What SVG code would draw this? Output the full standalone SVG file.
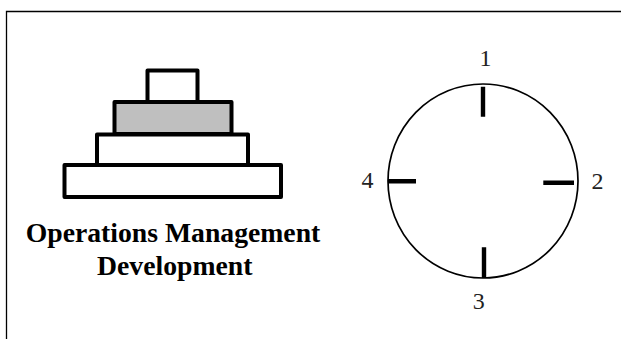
<svg xmlns="http://www.w3.org/2000/svg" width="621" height="339" viewBox="0 0 621 339">
<style>
.step{stroke:#000;stroke-width:4;stroke-linejoin:round;fill:#fff}
.frame{stroke:#000;stroke-width:1.3;fill:none}
.tick{stroke:#000;stroke-width:4.4;fill:none}
.num{font-family:"Liberation Serif",serif;font-size:24px;fill:#222;text-anchor:middle}
.title{font-family:"Liberation Serif",serif;font-size:27.7px;font-weight:bold;fill:#000;text-anchor:middle}
</style>
<rect width="621" height="339" fill="#fff"/>
<path class="frame" d="M621 11.5H6.5V339"/>
<g id="pyramid">
<rect id="step-top" class="step" x="147.5" y="70.5" width="50" height="32"/>
<rect id="step-base" class="step" x="64.5" y="165" width="216.5" height="32"/>
<rect id="step-lower" class="step" x="97" y="134.5" width="151" height="30.5"/>
<rect id="step-grey" class="step" x="114.5" y="102" width="117" height="32" style="fill:#bfbfbf"/>
</g>
<g id="title"><text class="title" x="173" y="241.5">Operations Management</text>
<text class="title" x="174.7" y="274.5">Development</text></g>
<g id="dial">
<ellipse cx="483" cy="181" rx="95" ry="97" fill="#fff" stroke="#000" stroke-width="1.7"/>
<path class="tick" d="M483 86.7V116.7M543.3 182.7H574M484 247.3V278M388 181.3H416"/>
</g>
<g id="labels">
<text class="num" x="485.5" y="65.5">1</text>
<text class="num" x="597.5" y="188.5">2</text>
<text class="num" x="478.7" y="308.5">3</text>
<text class="num" x="367.5" y="188">4</text>
</g>
</svg>
